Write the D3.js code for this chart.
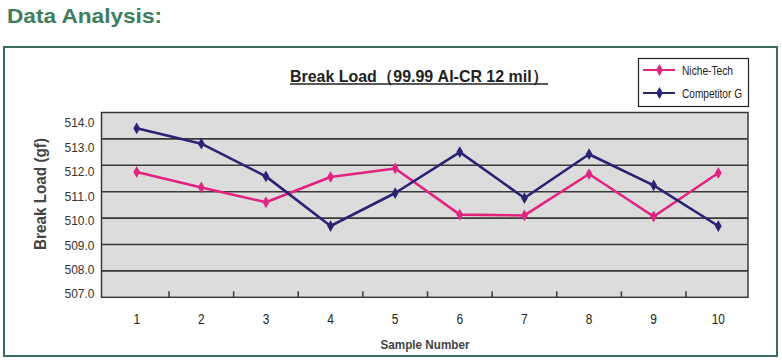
<!DOCTYPE html>
<html>
<head>
<meta charset="utf-8">
<script src="https://cdn.jsdelivr.net/npm/d3@7"></script>
<style>
  html, body { margin: 0; padding: 0; background: #fff; }
  svg { display: block; }
  .narrow { font-family: "Liberation Sans Narrow", "Arial Narrow", "Liberation Sans", Arial, sans-serif; }
</style>
</head>
<body>
<svg id="chart" width="782" height="360"></svg>
<script>
const samples = [1, 2, 3, 4, 5, 6, 7, 8, 9, 10];
const nicheTech = [511.75, 511.16, 510.60, 511.56, 511.88, 510.13, 510.10, 511.67, 510.06, 511.71];
const competitorG = [513.40, 512.82, 511.58, 509.70, 510.95, 512.50, 510.76, 512.42, 511.24, 509.70];
const yTicks = [507, 508, 509, 510, 511, 512, 513, 514];
const seriesNames = ["Niche-Tech", "Competitor G"];
const seriesColors = ["#e2237f", "#2a2374"];
const chartTitle = "Break Load\uFF0899.99 Al-CR 12 mil\uFF09";
const header = "Data Analysis:";
const yTitle = "Break Load (gf)";
const xTitle = "Sample Number";

const svg = d3.select("#chart");

// header
svg.append("text").attr("x", 7).attr("y", 23)
  .attr("font-family", "'Liberation Sans', Arial, sans-serif")
  .attr("font-weight", "bold").attr("font-size", 21)
  .attr("fill", "#3c7e5d")
  .attr("textLength", 155).attr("lengthAdjust", "spacingAndGlyphs")
  .text(header);

// outer frame
svg.append("rect").attr("x", 4).attr("y", 47).attr("width", 773).attr("height", 309)
  .attr("fill", "#fff").attr("stroke", "#3a6d5b").attr("stroke-width", 2);

const plot = {left: 101.5, right: 748, top: 112.5, bottom: 297.3};

const x = d3.scalePoint().domain(samples).range([136.7, 718.3]);
const step = x.step();
const y = d3.scaleLinear().domain([507, 514]).range([plot.bottom, plot.top]);
const yLabel = d3.scaleLinear().domain([507, 514]).range([293.5, 122.5]);

// plot background
svg.append("rect").attr("x", plot.left).attr("y", plot.top)
  .attr("width", plot.right - plot.left).attr("height", plot.bottom - plot.top)
  .attr("fill", "#dcdcdc");

// grid lines
svg.append("g").selectAll("line").data(yTicks.filter(d => d > 507 && d < 514)).join("line")
  .attr("x1", plot.left).attr("x2", plot.right)
  .attr("y1", d => y(d)).attr("y2", d => y(d))
  .attr("stroke", "#3a3a3a").attr("stroke-width", 1.6);

// plot border
svg.append("rect").attr("x", plot.left).attr("y", plot.top)
  .attr("width", plot.right - plot.left).attr("height", plot.bottom - plot.top)
  .attr("fill", "none").attr("stroke", "#3a3a3a").attr("stroke-width", 1.5);

// x tick marks between categories (inside, upward)
svg.append("g").selectAll("line").data(samples.slice(0, -1)).join("line")
  .attr("x1", d => x(d) + step / 2).attr("x2", d => x(d) + step / 2)
  .attr("y1", plot.bottom).attr("y2", plot.bottom - 6)
  .attr("stroke", "#3a3a3a").attr("stroke-width", 1.5);

// y axis labels
svg.append("g").attr("class", "narrow").selectAll("text").data(yTicks).join("text")
  .attr("x", 94.5).attr("y", d => yLabel(d)).attr("dy", "0.36em")
  .attr("text-anchor", "end").attr("font-size", 13.5).attr("fill", "#333")
  .attr("textLength", 30).attr("lengthAdjust", "spacingAndGlyphs")
  .text(d => d3.format(".1f")(d));

// x axis labels
svg.append("g").attr("class", "narrow").selectAll("text").data(samples).join("text")
  .attr("x", d => x(d)).attr("y", 319).attr("dy", "0.36em")
  .attr("text-anchor", "middle").attr("font-size", 14).attr("fill", "#222")
  .attr("transform", d => `translate(${x(d)},0) scale(0.85,1) translate(${-x(d)},0)`)
  .text(d => d);

// axis titles
svg.append("text").attr("class", "narrow")
  .attr("transform", "translate(40,194) rotate(-90)")
  .attr("text-anchor", "middle").attr("dy", "0.36em")
  .attr("font-weight", "bold").attr("font-size", 16).attr("fill", "#444")
  .attr("font-family", "'Liberation Sans', Arial, sans-serif")
  .attr("textLength", 112).attr("lengthAdjust", "spacingAndGlyphs")
  .text(yTitle);

svg.append("text").attr("class", "narrow")
  .attr("x", 425).attr("y", 344).attr("dy", "0.36em")
  .attr("text-anchor", "middle")
  .attr("font-weight", "bold").attr("font-size", 13).attr("fill", "#444")
  .attr("textLength", 89).attr("lengthAdjust", "spacingAndGlyphs")
  .text(xTitle);

// chart title with underline
svg.append("text").attr("class", "narrow")
  .attr("x", 290).attr("y", 81.5)
  .attr("font-weight", "bold").attr("font-size", 16.5).attr("fill", "#222")
  .attr("textLength", 258).attr("lengthAdjust", "spacingAndGlyphs")
  .text(chartTitle);
svg.append("line").attr("x1", 290).attr("x2", 548).attr("y1", 84).attr("y2", 84)
  .attr("stroke", "#222").attr("stroke-width", 1.3);

// series
const allSeries = [nicheTech, competitorG];
const line = d3.line().x((d, i) => x(samples[i])).y(d => y(d));
const diamond = d3.symbol().type(d3.symbolDiamond).size(40);

allSeries.forEach((vals, si) => {
  const g = svg.append("g");
  g.append("path").datum(vals).attr("d", line)
    .attr("fill", "none").attr("stroke", seriesColors[si]).attr("stroke-width", 2.6)
    .attr("stroke-linejoin", "round");
  g.selectAll("path.m").data(vals).join("path").attr("class", "m")
    .attr("transform", (d, i) => `translate(${x(samples[i])},${y(d)})`)
    .attr("d", diamond).attr("fill", seriesColors[si]);
});

// legend
const legendWidths = [51, 60];
const lg = svg.append("g");
lg.append("rect").attr("x", 638.5).attr("y", 58.5).attr("width", 110).attr("height", 48)
  .attr("fill", "#fff").attr("stroke", "#222").attr("stroke-width", 1.2);
const legendY = d3.scalePoint().domain(seriesNames).range([70, 93]);
seriesNames.forEach((name, si) => {
  const yy = legendY(name);
  lg.append("line").attr("x1", 643).attr("x2", 675).attr("y1", yy).attr("y2", yy)
    .attr("stroke", seriesColors[si]).attr("stroke-width", 2);
  lg.append("path").attr("transform", `translate(659.5,${yy})`)
    .attr("d", diamond).attr("fill", seriesColors[si]);
  lg.append("text").attr("class", "narrow").attr("x", 682).attr("y", yy).attr("dy", "0.36em")
    .attr("font-size", 12.5).attr("fill", "#222")
    .attr("textLength", legendWidths[si]).attr("lengthAdjust", "spacingAndGlyphs")
    .text(name);
});
</script>
</body>
</html>
